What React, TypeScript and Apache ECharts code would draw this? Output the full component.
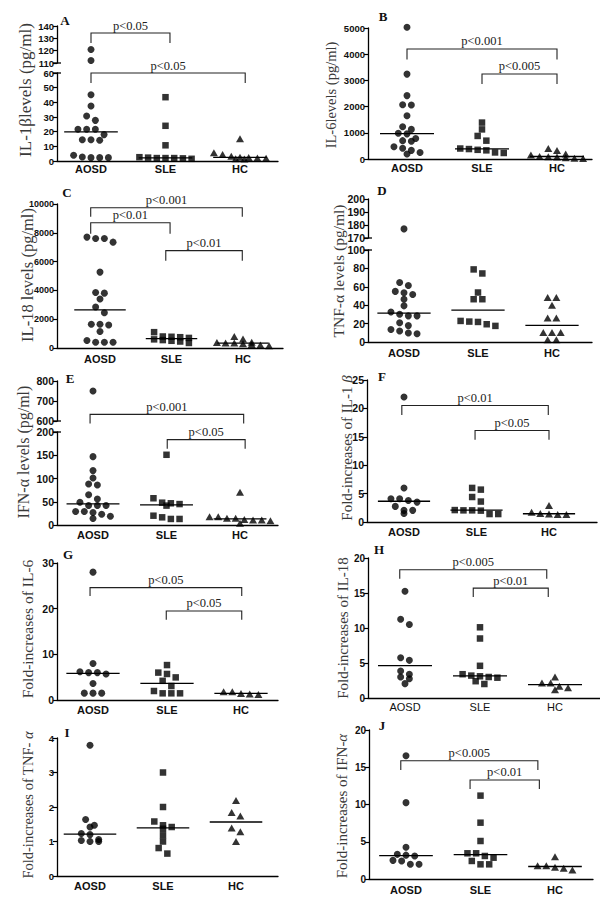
import React, { useEffect, useRef } from 'react';
import * as echarts from 'echarts';

const categories = ['AOSD', 'SLE', 'HC'];

// A: IL-1β levels (pg/ml)
const aAOSD = [121, 112, 45.2, 37.5, 30.7, 27.7, 21.6, 21.6, 21.6, 18, 14.5, 14.5, 14.1, 3.9, 2.7, 2.3, 2.3, 2.3];
const aSLE = [43.5, 24, 10.7, 2.6, 2.3, 2, 2, 2, 1.8, 1.5];
const aHC = [15.2, 5.7, 4.5, 3.2, 2.6, 2.4, 2, 1.8, 1.6, 1.4];
const aPairs = [[0, 1.06], [0, 2.07]];
const aLevels = [[134.3, 126.2], [60, 53.2]];
const aLabels = ['p<0.05', 'p<0.05'];

// B: IL-6 levels (pg/ml)
const bAOSD = [5030, 3240, 2420, 2070, 2060, 1650, 1230, 1130, 980, 960, 780, 700, 680, 470, 410, 330, 250, 190];
const bSLE = [1390, 1130, 880, 700, 400, 380, 350, 330, 250, 230];
const bHC = [400, 320, 190, 150, 100, 90, 80, 50, 30, 20];
const bPairs = [[0, 2], [1, 2]];
const bLevels = [[4200, 3800], [3245, 2860]];
const bLabels = ['p<0.001', 'p<0.005'];

// C: IL-18 levels (pg/ml)
const cAOSD = [7700, 7600, 7600, 7350, 5270, 3860, 3810, 3400, 2850, 2450, 1650, 1650, 1600, 1150, 520, 400, 400, 400];
const cSLE = [1100, 800, 780, 750, 700, 600, 550, 500, 450, 350];
const cHC = [800, 620, 400, 380, 350, 340, 300, 250, 200, 150];
const cPairs = [[-0.13, 1.99], [-0.13, 0.98], [0.92, 1.99]];
const cLevels = [[9740, 9120], [8700, 7940], [6760, 6060]];
const cLabels = ['p<0.001', 'p<0.01', 'p<0.01'];

// D: TNF-α levels (pg/ml)
const dAOSD = [177, 64.7, 61.5, 55, 53.5, 51.6, 46.5, 39.3, 32.7, 30.2, 28.4, 28.4, 21, 17.8, 13.5, 12, 9.8, 9];
const dSLE = [78.9, 74.5, 53.8, 46.5, 46.5, 22.9, 22.2, 21.8, 19.3, 17.5];
const dHC = [48.4, 48.4, 40, 26, 26, 10.2, 10.2, 10.2, 2.5, 2.5];

// E: IFN-α levels (pg/ml)
const eAOSD = [750, 147, 117, 101, 88, 86, 65, 56, 49, 42, 42, 42, 29, 29, 27, 23, 19, 14];
const eSLE = [151, 57.5, 48, 46.7, 45, 41.7, 20, 16.5, 13, 13];
const eHC = [70.5, 18, 18, 14.4, 14.4, 12, 10.8, 10.8, 9.4, 3.6];
const ePairs = [[-0.04, 2.05], [1.01, 2.07]];
const eLevels = [[633, 588], [183.5, 164]];
const eLabels = ['p<0.001', 'p<0.05'];

// F: fold-increases of IL-1β
const fAOSD = [22, 6, 4.1, 4.1, 3.8, 3.5, 2.75, 2.05, 2.05, 1.5];
const fSLE = [6, 5.7, 4.4, 3.6, 2.1, 2.05, 2.05, 2, 1.4, 1.4];
const fHC = [2.9, 1.7, 1.5, 1.4, 1.3, 1.3];
const fPairs = [[-0.03, 1.99], [0.98, 2.0]];
const fLevels = [[20.5, 18.85], [16.1, 14.46]];
const fLabels = ['p<0.01', 'p<0.05'];

// G: fold-increases of IL-6
const gAOSD = [28, 8, 6.2, 6, 6, 5.7, 3.6, 1.5, 1.5, 1.5];
const gSLE = [7.65, 6, 5.7, 4.95, 4.2, 3.06, 1.97, 1.46, 1.46, 1.46];
const gHC = [1.8, 1.8, 1.45, 1.3, 1.2];
const gPairs = [[-0.04, 2.01], [0.99, 2.01]];
const gLevels = [[24.6, 22.8], [19.5, 17.6]];
const gLabels = ['p<0.05', 'p<0.05'];

// H: fold-increases of IL-18
const hAOSD = [15.24, 11.24, 10.5, 5.76, 5.38, 3.86, 3.38, 3.0, 2.76, 2.05];
const hSLE = [10.1, 8.5, 4.6, 3.4, 3.2, 3.1, 3.0, 2.9, 2.4, 2.0];
const hHC = [3.0, 2.14, 2.14, 1.67, 1.48, 1.19];
const hPairs = [[-0.07, 1.89], [0.91, 1.91]];
const hLevels = [[18.33, 17.05], [15.7, 14.43]];
const hLabels = ['p<0.005', 'p<0.01'];

// I: fold-increases of TNF-α
const iAOSD = [3.79, 1.64, 1.47, 1.42, 1.23, 1.2, 1.06, 1.03, 1.0, 1.0];
const iSLE = [3.0, 2.0, 1.58, 1.47, 1.42, 1.37, 1.18, 1.0, 0.81, 0.65];
const iHC = [2.19, 1.84, 1.74, 1.39, 1.28, 1.0];

// J: fold-increases of IFN-α
const jAOSD = [16.55, 10.25, 4.25, 3.31, 3.2, 3.09, 2.5, 2.42, 1.97, 1.97];
const jSLE = [11.19, 7.56, 5.1, 3.45, 3.45, 3.09, 2.86, 2.42, 1.97, 1.97];
const jHC = [3.0, 1.79, 1.79, 1.57, 1.43, 1.21];
const jPairs = [[-0.07, 1.77], [0.86, 1.79]];
const jLevels = [[15.88, 14.63], [13.29, 12.08]];
const jLabels = ['p<0.005', 'p<0.01'];

const FONT_SANS = '"Liberation Sans", Arial, sans-serif';
const FONT_SERIF = '"Liberation Serif", "Times New Roman", serif';

type Seg = { top: number; bottom: number; min: number; max: number; interval: number };
type Layout = {
  letter: string; letterX: number; letterY: number;
  left: number; right: number; start: number; step: number;
  segs: Seg[];
  name: string; nameX: number; nameY: number; nameSize: number;
  tickSize: number; labelMargin: number; labelWeight: string;
};

const layouts: Record<string, Layout> = {
  A: { letter: 'A', letterX: 65, letterY: 20, left: 57, right: 278, start: 91, step: 74.5,
    segs: [{ top: 26, bottom: 63, min: 110, max: 140, interval: 10 }, { top: 73, bottom: 161, min: 0, max: 60, interval: 10 }],
    name: 'IL-1βlevels (pg/ml)', nameX: 25, nameY: 90, nameSize: 17, tickSize: 9.5, labelMargin: 2, labelWeight: 'bold' },
  B: { letter: 'B', letterX: 383, letterY: 16, left: 368, right: 592, start: 407, step: 75,
    segs: [{ top: 28, bottom: 159, min: 0, max: 5000, interval: 1000 }],
    name: 'IL-6levels (pg/ml)', nameX: 331, nameY: 95, nameSize: 14.5, tickSize: 9.5, labelMargin: 3.5, labelWeight: 'bold' },
  C: { letter: 'C', letterX: 67, letterY: 192, left: 57, right: 283, start: 100, step: 71.5,
    segs: [{ top: 204, bottom: 348, min: 0, max: 10000, interval: 2000 }],
    name: 'IL-18 levels (pg/ml)', nameX: 27, nameY: 275, nameSize: 16.5, tickSize: 9, labelMargin: 5.5, labelWeight: 'bold' },
  D: { letter: 'D', letterX: 382, letterY: 190, left: 368, right: 592, start: 404, step: 74,
    segs: [{ top: 199, bottom: 238, min: 170, max: 200, interval: 10 }, { top: 250, bottom: 342, min: 0, max: 100, interval: 20 }],
    name: 'TNF-α levels (pg/ml)', nameX: 338, nameY: 271, nameSize: 15.5, tickSize: 10.5, labelMargin: 5.5, labelWeight: 'bold' },
  E: { letter: 'E', letterX: 70, letterY: 378, left: 57, right: 278, start: 93, step: 73.5,
    segs: [{ top: 381, bottom: 421, min: 600, max: 800, interval: 100 }, { top: 432, bottom: 525, min: 0, max: 200, interval: 50 }],
    name: 'IFN-α levels (pg/ml)', nameX: 23, nameY: 452, nameSize: 16, tickSize: 10.5, labelMargin: 4.5, labelWeight: 'bold' },
  F: { letter: 'F', letterX: 382, letterY: 376, left: 367, right: 597, start: 404, step: 72.5,
    segs: [{ top: 380, bottom: 522, min: 0, max: 25, interval: 5 }],
    name: 'Fold-increases of IL-1 {i|β}', nameX: 347, nameY: 448, nameSize: 15, tickSize: 10.5, labelMargin: 4.5, labelWeight: 'bold' },
  G: { letter: 'G', letterX: 68, letterY: 554, left: 57, right: 278, start: 93, step: 74,
    segs: [{ top: 563, bottom: 700, min: 0, max: 30, interval: 10 }],
    name: 'Fold-increases of IL-6', nameX: 27, nameY: 629, nameSize: 15.5, tickSize: 10.5, labelMargin: 4.5, labelWeight: 'bold' },
  H: { letter: 'H', letterX: 379, letterY: 549, left: 368, right: 600, start: 405, step: 75,
    segs: [{ top: 558, bottom: 698, min: 0, max: 20, interval: 5 }],
    name: 'Fold-increases of IL-18', nameX: 343, nameY: 628, nameSize: 15, tickSize: 10, labelMargin: 3.5, labelWeight: 'normal' },
  I: { letter: 'I', letterX: 67, letterY: 732, left: 57, right: 278, start: 90, step: 73,
    segs: [{ top: 738, bottom: 876, min: 0, max: 4, interval: 1 }],
    name: 'Fold-increases of TNF- {i|α}', nameX: 28, nameY: 805, nameSize: 14.5, tickSize: 9.5, labelMargin: 4.5, labelWeight: 'bold' },
  J: { letter: 'J', letterX: 382, letterY: 725, left: 369, right: 593, start: 406, step: 74.5,
    segs: [{ top: 730, bottom: 879, min: 0, max: 20, interval: 5 }],
    name: 'Fold-increases of IFN-{i|α}', nameX: 342, nameY: 806, nameSize: 15, tickSize: 10, labelMargin: 5.5, labelWeight: 'bold' },
};

type Panel = { layout: Layout; groups: number[][]; pairs: number[][]; levels: number[][]; labels: string[] };

const panels: Panel[] = [
  { layout: layouts.A, groups: [aAOSD, aSLE, aHC], pairs: aPairs, levels: aLevels, labels: aLabels },
  { layout: layouts.B, groups: [bAOSD, bSLE, bHC], pairs: bPairs, levels: bLevels, labels: bLabels },
  { layout: layouts.C, groups: [cAOSD, cSLE, cHC], pairs: cPairs, levels: cLevels, labels: cLabels },
  { layout: layouts.D, groups: [dAOSD, dSLE, dHC], pairs: [], levels: [], labels: [] },
  { layout: layouts.E, groups: [eAOSD, eSLE, eHC], pairs: ePairs, levels: eLevels, labels: eLabels },
  { layout: layouts.F, groups: [fAOSD, fSLE, fHC], pairs: fPairs, levels: fLevels, labels: fLabels },
  { layout: layouts.G, groups: [gAOSD, gSLE, gHC], pairs: gPairs, levels: gLevels, labels: gLabels },
  { layout: layouts.H, groups: [hAOSD, hSLE, hHC], pairs: hPairs, levels: hLevels, labels: hLabels },
  { layout: layouts.I, groups: [iAOSD, iSLE, iHC], pairs: [], levels: [], labels: [] },
  { layout: layouts.J, groups: [jAOSD, jSLE, jHC], pairs: jPairs, levels: jLevels, labels: jLabels },
];

const SYMBOLS = ['circle', 'rect', 'triangle'];
const SIZES: any[] = [7, 6.5, [8, 7]];

function median(vals: number[]) {
  const s = [...vals].sort((a, b) => a - b);
  const n = s.length;
  return n % 2 ? s[(n - 1) / 2] : (s[n / 2 - 1] + s[n / 2]) / 2;
}

// Column-scatter layout: values that fall within one marker height share a row and are spread sideways.
function swarm(vals: number[], pxPerUnit: number, stepCat: number, center: number) {
  const sorted = [...vals].sort((a, b) => b - a);
  const rows: number[][] = [];
  let cur: number[] = [];
  let start = 0;
  for (const v of sorted) {
    if (cur.length && (start - v) * pxPerUnit < 6) cur.push(v);
    else {
      if (cur.length) rows.push(cur);
      cur = [v];
      start = v;
    }
  }
  if (cur.length) rows.push(cur);
  const out: number[][] = [];
  rows.forEach((r) => r.forEach((v, i) => out.push([center + (i - (r.length - 1) / 2) * stepCat, v])));
  return out;
}

function buildOption() {
  const grid: any[] = [];
  const xAxis: any[] = [];
  const yAxis: any[] = [];
  const series: any[] = [];
  const graphic: any[] = [];

  panels.forEach((p) => {
    const L = p.layout;
    const xMin = -(L.start - L.left) / L.step;
    const xMax = (L.right - L.start) / L.step;
    const nSeg = L.segs.length;
    const base = grid.length;
    const segOf = (v: number) => (nSeg === 1 ? 0 : v <= L.segs[nSeg - 1].max ? nSeg - 1 : 0);

    L.segs.forEach((s, si) => {
      const isBottom = si === nSeg - 1;
      grid.push({ left: L.left, top: s.top, width: L.right - L.left, height: s.bottom - s.top, containLabel: false });
      xAxis.push({
        type: 'value', gridIndex: base + si, min: xMin, max: xMax, show: isBottom,
        axisLine: { show: true, onZero: false, lineStyle: { color: '#000', width: 1.3 } },
        axisTick: { show: false },
        splitLine: { show: false },
        axisLabel: {
          customValues: [0, 1, 2],
          formatter: (v: number) => categories[Math.round(v)] ?? '',
          fontFamily: FONT_SANS, fontWeight: L.labelWeight, fontSize: 11, color: '#111', margin: L.labelMargin,
        },
      });
      yAxis.push({
        type: 'value', gridIndex: base + si, min: s.min, max: s.max, interval: s.interval,
        axisLine: { show: true, onZero: false, lineStyle: { color: '#000', width: 1.3 } },
        axisTick: { show: true, length: 4, lineStyle: { color: '#000', width: 1.2 } },
        splitLine: { show: false },
        axisLabel: {
          formatter: (v: number) => String(v),
          fontFamily: FONT_SANS, fontWeight: 'bold', fontSize: L.tickSize, color: '#111', margin: 3,
        },
      });
    });

    // points
    p.groups.forEach((vals, g) => {
      L.segs.forEach((s, si) => {
        const sub = vals.filter((v) => segOf(v) === si);
        if (!sub.length) return;
        const ppu = (s.bottom - s.top) / (s.max - s.min);
        series.push({
          type: 'scatter', xAxisIndex: base + si, yAxisIndex: base + si, silent: true, clip: false,
          symbol: SYMBOLS[g], symbolSize: SIZES[g], itemStyle: { color: '#000' },
          data: swarm(sub, ppu, 8.7 / L.step, g),
        });
      });
    });

    // medians
    const bi = base + nSeg - 1;
    series.push({
      type: 'custom', xAxisIndex: bi, yAxisIndex: bi, silent: true, clip: false,
      data: p.groups.map((vals, g) => [g, median(vals)]),
      renderItem: (_params: any, api: any) => {
        const a = api.coord([api.value(0) - 0.36, api.value(1)]);
        const b = api.coord([api.value(0) + 0.36, api.value(1)]);
        return { type: 'line', shape: { x1: a[0], y1: a[1], x2: b[0], y2: b[1] }, style: { stroke: '#000', lineWidth: 1.3 } };
      },
    });

    // significance brackets
    p.pairs.forEach((pair, k) => {
      const [yTop, yDrop] = p.levels[k];
      const gi = base + segOf(yTop);
      const label = p.labels[k];
      series.push({
        type: 'custom', xAxisIndex: gi, yAxisIndex: gi, silent: true, clip: false,
        data: [[pair[0], pair[1], yTop, yDrop]],
        renderItem: (_params: any, api: any) => {
          const l = api.coord([api.value(0), api.value(2)]);
          const r = api.coord([api.value(1), api.value(2)]);
          const d = api.coord([api.value(0), api.value(3)]);
          return {
            type: 'group',
            children: [
              { type: 'polyline', shape: { points: [[l[0], d[1]], [l[0], l[1]], [r[0], r[1]], [r[0], d[1]]] },
                style: { stroke: '#222', lineWidth: 1.1, fill: 'none' } },
              { type: 'text', x: (l[0] + r[0]) / 2, y: l[1] - 7.5,
                style: { text: label, fill: '#222', fontSize: 12.5, fontFamily: FONT_SERIF, align: 'center', verticalAlign: 'middle' } },
            ],
          };
        },
      });
    });

    // axis break caps
    if (nSeg > 1) {
      L.segs.forEach((s, si) => {
        const v = si === 0 ? s.min : s.max;
        series.push({
          type: 'custom', xAxisIndex: base + si, yAxisIndex: base + si, silent: true, clip: false,
          data: [[xMin, v]],
          renderItem: (_params: any, api: any) => {
            const c = api.coord([api.value(0), api.value(1)]);
            return { type: 'line', shape: { x1: c[0] - 4, y1: c[1], x2: c[0] + 4, y2: c[1] }, style: { stroke: '#000', lineWidth: 1.3 } };
          },
        });
      });
    }

    graphic.push({
      type: 'text', x: L.nameX, y: L.nameY, rotation: Math.PI / 2, silent: true,
      style: {
        text: L.name, fontSize: L.nameSize, fontFamily: FONT_SERIF, fill: '#3a3a3a', align: 'center', verticalAlign: 'middle',
        rich: { i: { fontStyle: 'italic', fontSize: L.nameSize, fontFamily: FONT_SERIF, fill: '#3a3a3a' } },
      },
    });
    graphic.push({
      type: 'text', x: L.letterX, y: L.letterY, silent: true,
      style: { text: L.letter, fontSize: 13, fontWeight: 'bold', fontFamily: FONT_SERIF, fill: '#111', align: 'center', verticalAlign: 'middle' },
    });
  });

  return { animation: false, backgroundColor: '#fff', grid, xAxis, yAxis, series, graphic };
}

export default function App() {
  const ref = useRef<HTMLDivElement>(null);
  useEffect(() => {
    if (!ref.current) return;
    const chart = echarts.init(ref.current, undefined, { renderer: 'svg', width: 600, height: 905 });
    chart.setOption(buildOption() as any);
    return () => chart.dispose();
  }, []);
  return <div ref={ref} style={{ position: 'absolute', left: 0, top: 0, width: 600, height: 905, background: '#fff' }} />;
}
